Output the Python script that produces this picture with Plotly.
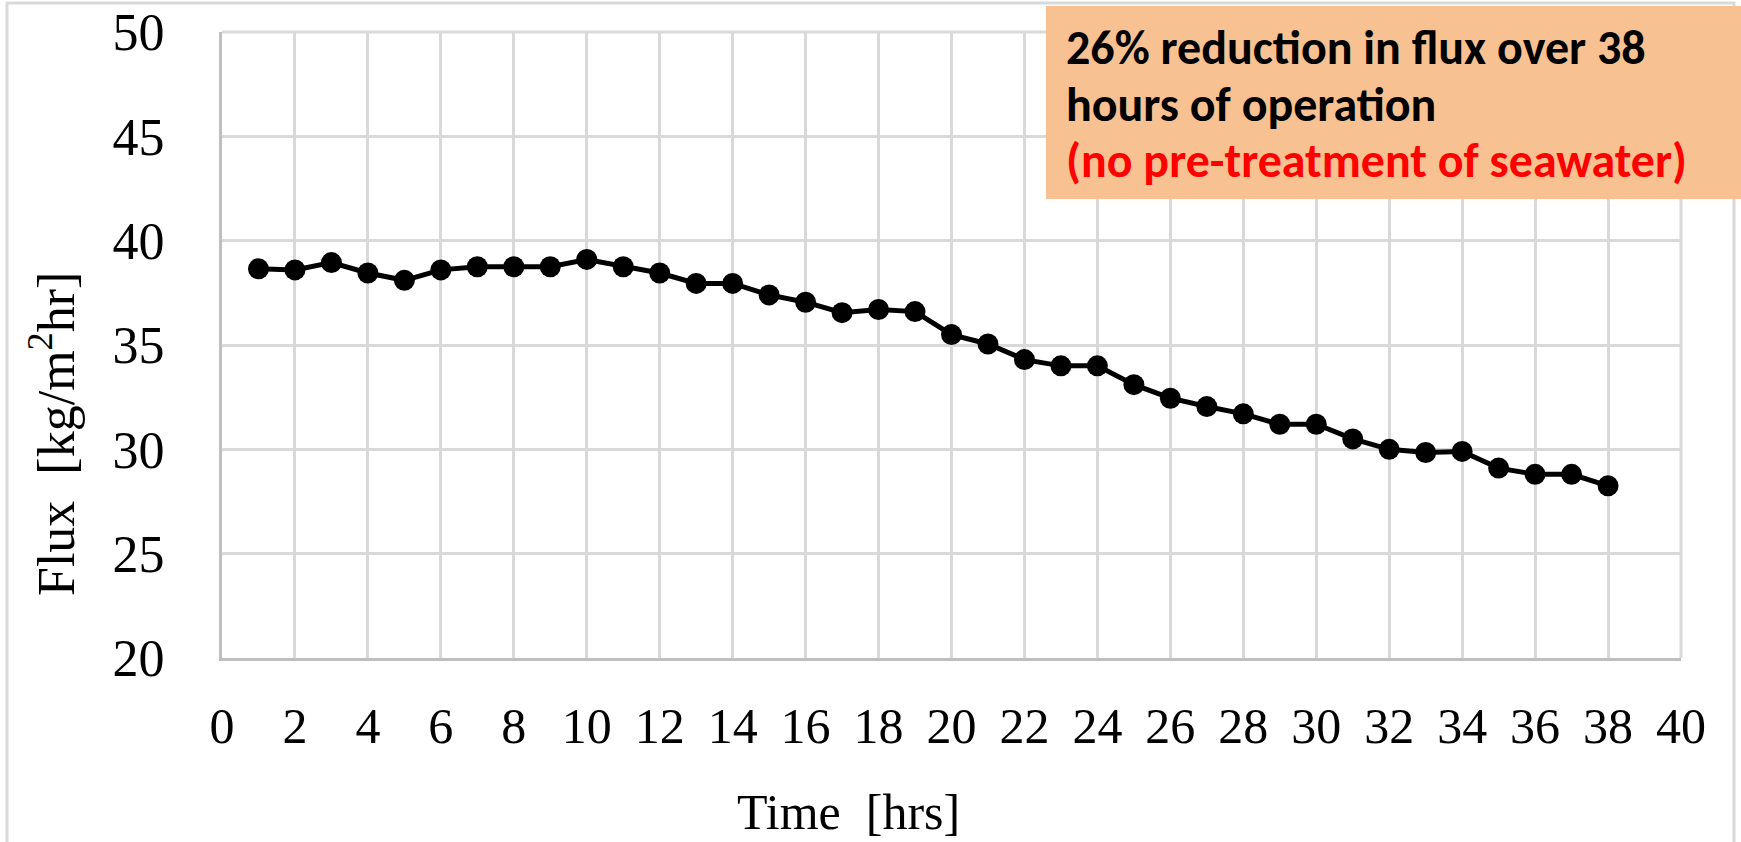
import plotly.graph_objects as go

# Permeate flux measured each hour of operation
time_hrs = list(range(1, 39))
flux = [38.65, 38.6, 38.95, 38.45, 38.1, 38.6, 38.75, 38.75, 38.75, 39.1,
        38.75, 38.45, 37.95, 37.95, 37.4, 37.05, 36.55, 36.7, 36.6, 35.5,
        35.05, 34.3, 34.0, 34.0, 33.1, 32.45, 32.05, 31.7, 31.2, 31.2,
        30.5, 30.0, 29.85, 29.9, 29.1, 28.8, 28.8, 28.25]

x_ticks = list(range(0, 41, 2))
y_ticks = list(range(20, 51, 5))

note_lines = ["26% reduction in flux over 38", "hours of operation"]
note_red = "(no pre-treatment of seawater)"

W, H = 1741, 842
L, R, T, B = 222, 60, 32, 184
pw, ph = W - L - R, H - T - B


def px_x(p):
    return (p - L) / pw


def px_y(p):
    return (H - B - p) / ph


serif = "Times New Roman, Liberation Serif, serif"
sans = "Calibri, Carlito, Lato, sans-serif"
grid = "#d9d9d9"

fig = go.Figure()
fig.add_trace(go.Scatter(
    x=time_hrs, y=flux, mode="lines+markers",
    line=dict(color="black", width=5),
    marker=dict(symbol="circle", size=21, color="black"),
    showlegend=False, cliponaxis=False,
))

fig.update_xaxes(
    range=[0, 40], tickvals=x_ticks, ticktext=[str(v) for v in x_ticks],
    showgrid=True, gridcolor=grid, gridwidth=3,
    showline=True, linecolor="#bfbfbf", linewidth=3, mirror=False,
    zeroline=False, ticks="", ticklabelstandoff=22,
    tickfont=dict(family=serif, size=50, color="black"),
)
fig.update_yaxes(
    range=[20, 50], tickvals=y_ticks, ticktext=[str(v) for v in y_ticks],
    showgrid=True, gridcolor=grid, gridwidth=3,
    showline=True, linecolor="#bfbfbf", linewidth=3, mirror=False,
    zeroline=False, ticks="", ticklabelstandoff=44,
    tickfont=dict(family=serif, size=52, color="black"),
)

shapes = [
    # outer chart frame
    dict(type="rect", xref="paper", yref="paper",
         x0=px_x(7), x1=px_x(1734), y0=px_y(900), y1=px_y(3),
         line=dict(color=grid, width=3), fillcolor="rgba(0,0,0,0)", layer="below"),
    # top and right plot borders
    dict(type="line", xref="paper", yref="paper", x0=0, x1=1, y0=1, y1=1,
         line=dict(color=grid, width=3), layer="below"),
    dict(type="line", xref="paper", yref="paper", x0=1, x1=1, y0=0, y1=1,
         line=dict(color=grid, width=3), layer="below"),
    # note box
    dict(type="rect", xref="paper", yref="paper",
         x0=px_x(1046), x1=px_x(1745), y0=px_y(199), y1=px_y(6),
         line=dict(width=0), fillcolor="#f8c191", layer="above"),
]

annotations = [
    dict(text="Time\u00a0 [hrs]", xref="paper", yref="paper",
         x=px_x(848), y=px_y(812), showarrow=False,
         xanchor="center", yanchor="middle",
         font=dict(family=serif, size=50, color="black")),
    dict(text="Flux\u00a0 [kg/m<sup>2</sup>hr]", xref="paper", yref="paper",
         x=px_x(52), y=px_y(434), showarrow=False, textangle=-90,
         xanchor="center", yanchor="middle",
         font=dict(family=serif, size=52, color="black")),
]
for i, line in enumerate(note_lines):
    annotations.append(dict(
        text="<b>" + line + "</b>", xref="paper", yref="paper",
        x=px_x(1064), y=px_y(47 + 57 * i), showarrow=False,
        xanchor="left", yanchor="middle",
        font=dict(family=sans, size=48, color="black")))
annotations.append(dict(
    text="<b>" + note_red + "</b>", xref="paper", yref="paper",
    x=px_x(1064), y=px_y(161), showarrow=False,
    xanchor="left", yanchor="middle",
    font=dict(family=sans, size=48, color="#ff0000")))

fig.update_layout(
    width=W, height=H,
    margin=dict(l=L, r=R, t=T, b=B, autoexpand=False),
    paper_bgcolor="white", plot_bgcolor="white",
    shapes=shapes, annotations=annotations,
)

fig.write_html("out.html")
